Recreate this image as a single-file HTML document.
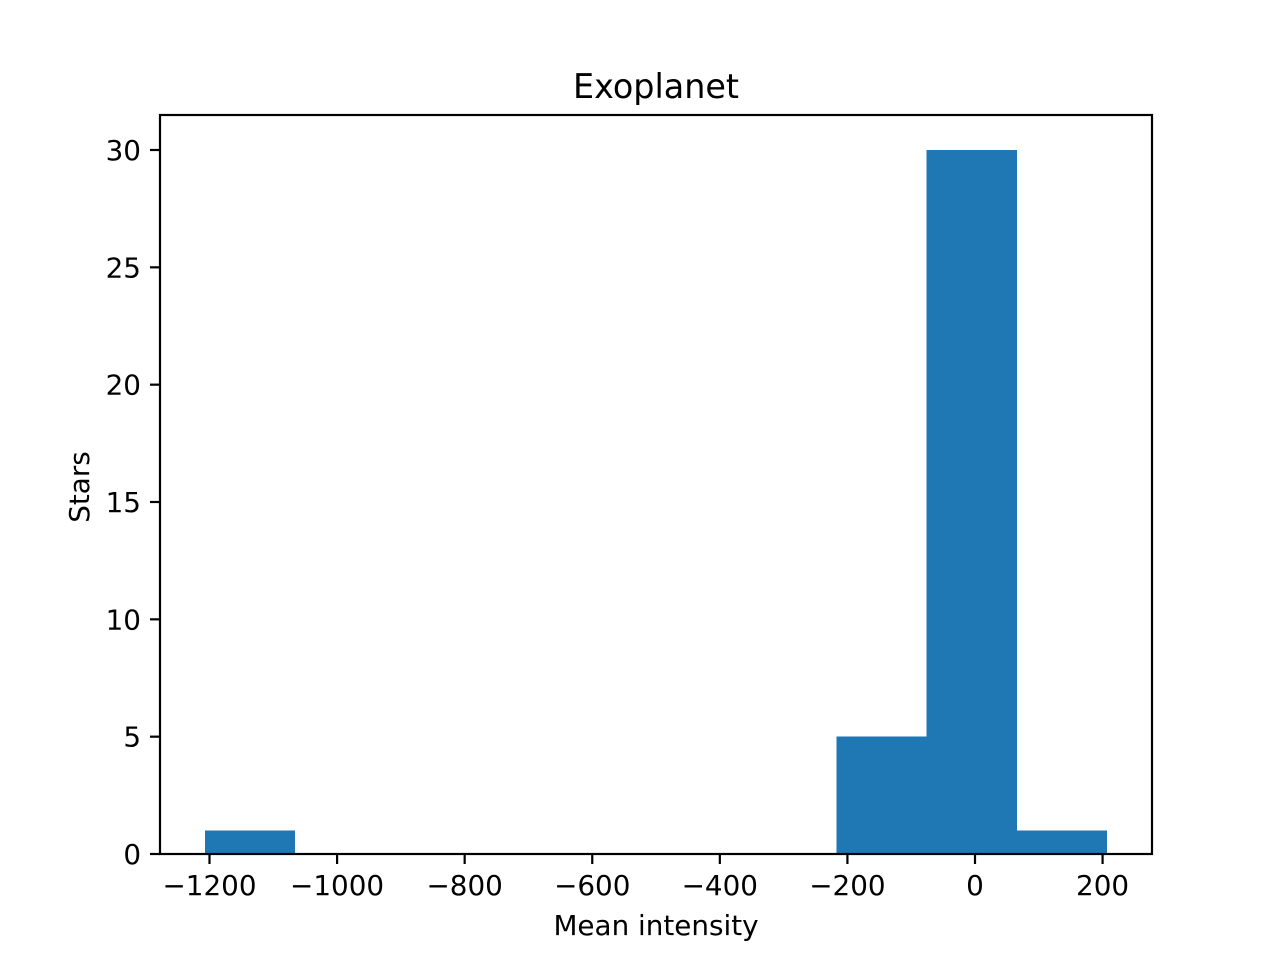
<!DOCTYPE html>
<html><head><meta charset="utf-8"><style>
html,body{margin:0;padding:0;background:#fff;}
svg text{font-family:"DejaVu Sans","Liberation Sans",sans-serif;fill:#000;}
</style></head><body>
<svg id="chart" width="1280" height="960" viewBox="0 0 1280 960">
<rect width="1280" height="960" fill="#fff"/>
<text x="656" y="98" font-size="33.4" text-anchor="middle">Exoplanet</text>
<g id="bars" shape-rendering="crispEdges"></g>
<g id="xticks"></g>
<g id="yticks"></g>
<rect x="160" y="115" width="992" height="739" fill="none" stroke="#000" stroke-width="2.2"/>
<text x="656" y="935" font-size="27.8" text-anchor="middle">Mean intensity</text>
<text transform="translate(89,487) rotate(-90)" font-size="27.8" text-anchor="middle">Stars</text>
</svg>
<script>
const binMin = -1207;
const binMax = 207;
const counts = [1,0,0,0,0,0,0,5,30,1];
const xTickValues = [-1200,-1000,-800,-600,-400,-200,0,200];
const xTickLabels = ["\u22121200","\u22121000","\u2212800","\u2212600","\u2212400","\u2212200","0","200"];
const yTickValues = [0,5,10,15,20,25,30];
const yTickLabels = ["0","5","10","15","20","25","30"];

const NS = "http://www.w3.org/2000/svg";
const x = v => 975 + (v - 0) * (975 - 209.5) / 1200;
const y = v => 854 - v * (854 - 150) / 30;
const bars = document.getElementById('bars');
const w = (binMax - binMin) / counts.length;
counts.forEach((c, i) => {
  if (c <= 0) return;
  const r = document.createElementNS(NS, 'rect');
  const x0 = x(binMin + i * w), x1 = x(binMin + (i + 1) * w);
  r.setAttribute('x', x0); r.setAttribute('width', x1 - x0);
  r.setAttribute('y', y(c)); r.setAttribute('height', y(0) - y(c));
  r.setAttribute('fill', '#1f77b4');
  
  
  bars.appendChild(r);
});
const xg = document.getElementById('xticks');
xTickValues.forEach((v, i) => {
  const l = document.createElementNS(NS, 'line');
  l.setAttribute('x1', x(v)); l.setAttribute('x2', x(v));
  l.setAttribute('y1', 854); l.setAttribute('y2', 864);
  l.setAttribute('stroke', '#000'); l.setAttribute('stroke-width', '2.2');
  
  
  xg.appendChild(l);
  const t = document.createElementNS(NS, 'text');
  t.setAttribute('x', x(v)); t.setAttribute('y', 895);
  t.setAttribute('font-size', '27.8'); t.setAttribute('text-anchor', 'middle');
  t.textContent = xTickLabels[i];
  
  
  xg.appendChild(t);
});
const yg = document.getElementById('yticks');
yTickValues.forEach((v, i) => {
  const l = document.createElementNS(NS, 'line');
  l.setAttribute('x1', 150); l.setAttribute('x2', 160);
  l.setAttribute('y1', y(v)); l.setAttribute('y2', y(v));
  l.setAttribute('stroke', '#000'); l.setAttribute('stroke-width', '2.2');
  
  
  yg.appendChild(l);
  const t = document.createElementNS(NS, 'text');
  t.setAttribute('x', 141); t.setAttribute('y', y(v) + 10);
  t.setAttribute('font-size', '27.8'); t.setAttribute('text-anchor', 'end');
  t.textContent = yTickLabels[i];
  
  
  yg.appendChild(t);
});
</script>
</body></html>
